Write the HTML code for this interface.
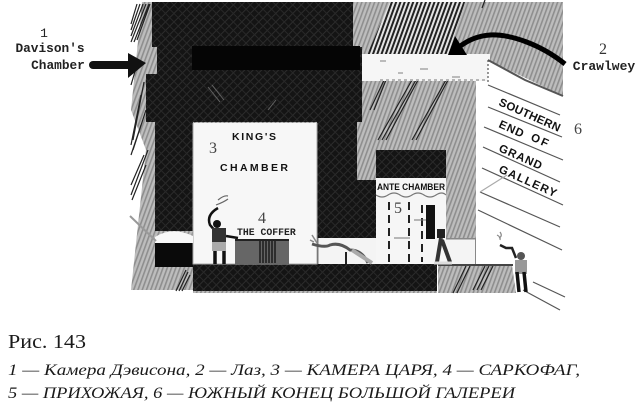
<!DOCTYPE html>
<html><head><meta charset="utf-8">
<style>html,body{margin:0;padding:0;background:#fff;width:636px;height:409px;overflow:hidden}svg{display:block}
.m{font-family:"Liberation Mono",monospace;font-weight:bold;fill:#222}
.d{font-family:"Liberation Sans",sans-serif;font-weight:bold;fill:#111}
.n{font-family:"Liberation Serif",serif;fill:#444}
.c{font-family:"Liberation Serif",serif;fill:#1a1a1a}
</style></head><body>
<svg width="636" height="409" viewBox="0 0 636 409" xmlns="http://www.w3.org/2000/svg">
<defs>
<pattern id="g" width="4" height="4" patternUnits="userSpaceOnUse" patternTransform="rotate(20)"><rect width="4" height="4" fill="#bdbdbd"/><rect width="1.6" height="4" fill="#8e8e8e"/></pattern>
<pattern id="h" width="4" height="4" patternUnits="userSpaceOnUse" patternTransform="rotate(20)"><rect width="4" height="4" fill="#e4e4e4"/><rect width="2" height="4" fill="#222"/></pattern>
<pattern id="k" width="6" height="6" patternUnits="userSpaceOnUse" patternTransform="rotate(45)"><rect width="6" height="6" fill="#141414"/><rect width="1" height="6" fill="#2c2c2c"/><rect width="6" height="1" fill="#282828"/></pattern>
</defs>
<rect width="636" height="409" fill="#fff"/>

<!-- gray masonry -->
<polygon points="142,2 563,2 563,96 488,60 476,60 476,265 437,265 437,293 193,293 193,290 142,290 131,290 146,150 131,110" fill="url(#g)"/>
<polygon points="438,265 512,265 518,293 438,293" fill="url(#g)"/>
<!-- left hatch -->
<g stroke="#222" stroke-width="1.2" fill="none">
<path d="M131,42 L146,4 M134,42 L149,4 M137,40 L150,4 M131,36 L143,4 M131,30 L140,4 M131,24 L137,4"/>
<path d="M131,85 L136,68 M133,140 L144,82 M131,145 L141,95 M133,150 L146,110 M131,155 L141,125"/>
<path d="M131,195 L148,150 M132,200 L146,165 M131,185 L144,155"/>
<path d="M176,291 L186,270 M179,291 L188,272 M182,291 L190,275"/>
<path d="M485,0 L482,8"/>
<path d="M453,293 L466,266 M457,293 L470,266 M473,290 L485,266 M477,290 L489,266 M481,290 L493,266"/>
<path d="M370,110 L385,78 M374,110 L386,80 M378,140 L412,80 M382,140 L416,80 M386,140 L418,80 M412,140 L446,80 M416,140 L448,80"/>
</g>
<!-- top hatch -->
<polygon points="390,2 465,2 448,55 367,55" fill="url(#h)"/>

<!-- dark block -->
<polygon points="152,2 353,2 353,47 362,47 362,122 357,122 357,180 376,180 376,238 317,238 317,122 193,122 193,231 155,231 155,122 146,122 146,74 157,74 157,47 152,47" fill="url(#k)"/>
<rect x="192" y="46" width="168" height="24" fill="#050505"/>
<rect x="155" y="243" width="38" height="24" fill="#0a0a0a"/>
<rect x="193" y="264" width="244" height="27" fill="url(#k)"/>
<rect x="376" y="150" width="70" height="28" fill="url(#k)"/>
<g stroke="#777" stroke-width="1" opacity=".8">
<path d="M208,87 L220,102 M212,85 L224,100 M268,110 L276,100"/>
</g>

<!-- crawlway -->
<rect x="362" y="54" width="128" height="27" fill="#f6f6f6"/>
<g fill="#bbb"><rect x="380" y="60" width="6" height="2"/><rect x="420" y="68" width="8" height="2"/><rect x="452" y="76" width="8" height="2"/><rect x="398" y="72" width="5" height="2"/></g>
<path d="M380,80 H490" stroke="#777" stroke-width="1" stroke-dasharray="3 3"/>

<!-- king's chamber -->
<rect x="193" y="123" width="124" height="141" fill="#f7f7f7"/>
<path d="M193,123 V264 H317 V123" fill="none" stroke="#aaa" stroke-width="1"/>
<!-- dome -->
<path d="M155,243 V237 Q172,226 193,236 V243 Z" fill="#f8f8f8"/>
<path d="M130,216 L156,241" stroke="#999" stroke-width="2"/>

<!-- passage -->
<rect x="318" y="238" width="58" height="26" fill="#f4f4f4"/>
<rect x="317" y="238" width="1.5" height="26" fill="#777"/>
<!-- ante chamber -->
<rect x="376" y="178" width="70" height="86" fill="#f6f6f6"/>
<path d="M376,195 q6,4 12,0 t12,0 t12,0 t12,0 t12,0 t10,0" fill="none" stroke="#777" stroke-width="1.2"/>
<path d="M389,202 V264 M409,202 V264 M422,205 V262" stroke="#222" stroke-width="2" stroke-dasharray="8 5"/>
<rect x="426" y="205" width="9" height="34" fill="#111"/>
<path d="M394,238 H410 M414,220 H426" stroke="#777" stroke-width="1"/>
<rect x="446" y="239" width="30" height="26" fill="#f4f4f4"/>
<rect x="475" y="239" width="1.5" height="26" fill="#888"/>
<rect x="446" y="238" width="30" height="1.5" fill="#888"/>

<!-- gallery -->
<polygon points="488,60 525,80 563,96 590,110 590,320 520,320 512,265 476,265 476,200 484,127 488,85" fill="#fff"/>
<g stroke="#555" stroke-width="1.2" fill="none">
<path d="M488,85 L560,115 M488,107 L562,137 M484,127 L563,160 M483,147 L560,182 M482,168 L563,205 M480,192 L560,227 M478,210 L562,250 M533,282 L565,297 M523,290 L560,310"/>
<path d="M488,60 L525,80 L563,96" stroke-width="2"/>
<path d="M488,60 V84" stroke-dasharray="2 2"/>
<path d="M438,265 H513" stroke-width="2" stroke="#444"/>
<path d="M480,192 L507,175" stroke="#aaa"/>
</g>

<!-- figure left -->
<g fill="none" stroke="#111" stroke-width="2.5">
<path d="M218,208 Q206,215 210,225 L216,232"/>
<path d="M226,236 L238,238"/>
<path d="M215,250 V264 M224,250 V264" stroke-width="3.5"/>
<path d="M218,200 q6,-5 10,-4 M216,205 q8,-3 12,-6" stroke="#666" stroke-width="1.2"/>
</g>
<circle cx="217" cy="224" r="4" fill="#111"/>
<rect x="212" y="228" width="14" height="14" fill="#333"/>
<rect x="212" y="242" width="14" height="9" fill="#aaa"/>
<!-- coffer -->
<rect x="235" y="240" width="54" height="24" fill="#666"/>
<g stroke="#111" stroke-width="1.3"><path d="M260,241 V263 M263,241 V263 M266,241 V263 M269,241 V263 M272,241 V263 M275,241 V263"/></g>
<rect x="235" y="239" width="54" height="2" fill="#222"/>
<!-- crawling figure -->
<path d="M312,235 l5,8 M310,240 l4,2" stroke="#888" stroke-width="1.5" fill="none"/>
<path d="M312,244 Q325,248 330,245 Q340,242 350,250 Q362,250 368,263" fill="none" stroke="#555" stroke-width="3"/>
<path d="M346,252 V264" stroke="#222" stroke-width="2"/>
<path d="M352,250 L372,263" stroke="#aaa" stroke-width="4"/>
<!-- ante figure -->
<rect x="437" y="229" width="8" height="9" fill="#222"/>
<path d="M441,238 L437,262 M442,240 L450,262" stroke="#333" stroke-width="4" fill="none"/>
<path d="M434,263 H452" stroke="#ddd" stroke-width="3"/>
<!-- gallery figure -->
<path d="M500,245 l6,3 l6,0 L516,258" stroke="#222" stroke-width="2.5" fill="none"/>
<path d="M500,232 q3,4 -1,6 M497,235 q4,2 3,5" stroke="#888" stroke-width="1.2" fill="none"/>
<circle cx="521" cy="256" r="4" fill="#555"/>
<rect x="515" y="260" width="12" height="14" fill="#999"/>
<path d="M517,272 L519,292 M524,272 L526,292" stroke="#111" stroke-width="3.5"/>

<!-- arrows -->
<path d="M93,65 H130" stroke="#111" stroke-width="8" stroke-linecap="round"/>
<polygon points="128,53 146,63 128,78" fill="#111"/>
<path d="M565,64 C540,44 510,34 490,35 C475,36 465,42 455,50" fill="none" stroke="#000" stroke-width="5"/>
<polygon points="448,55 467,55 455,36" fill="#000"/>

<!-- diagram labels -->
<text x="44" y="37" class="m" font-size="13" text-anchor="middle" style="font-weight:normal">1</text>
<text x="50" y="52" class="m" font-size="12.8" text-anchor="middle">Davison's</text>
<text x="58" y="69" class="m" font-size="12.8" text-anchor="middle">Chamber</text>
<text x="603" y="54" class="n" font-size="16" text-anchor="middle" style="fill:#333">2</text>
<text x="604" y="70" class="m" font-size="13" text-anchor="middle">Crawlwey</text>
<text x="578" y="134" class="n" font-size="16" text-anchor="middle">6</text>
<text x="213" y="153" class="n" font-size="16" text-anchor="middle">3</text>
<text x="232" y="140" class="d" font-size="10.5" textLength="44">KING'S</text>
<text x="220" y="171" class="d" font-size="10.5" textLength="68">CHAMBER</text>
<text x="262" y="223" class="n" font-size="16" text-anchor="middle">4</text>
<text x="237" y="235" class="m" font-size="9.8">THE COFFER</text>
<text x="377" y="190" class="d" font-size="9" textLength="68" lengthAdjust="spacingAndGlyphs">ANTE CHAMBER</text>
<text x="398" y="213" class="n" font-size="16" text-anchor="middle">5</text>
<text transform="translate(498,105) rotate(24)" class="d" font-size="11.5" textLength="66">SOUTHERN</text>
<text transform="translate(498,127) rotate(24)" class="d" font-size="11.5" textLength="26">END</text>
<text transform="translate(530,140) rotate(24)" class="d" font-size="11.5" textLength="18">OF</text>
<text transform="translate(498,151) rotate(24)" class="d" font-size="11.5" textLength="46">GRAND</text>
<text transform="translate(498,172) rotate(24)" class="d" font-size="11.5" textLength="62">GALLERY</text>

<!-- caption -->
<text x="8" y="348" class="c" font-size="20" textLength="78" lengthAdjust="spacingAndGlyphs">Рис. 143</text>
<text x="8" y="375" class="c" font-size="16" font-style="italic" textLength="572" lengthAdjust="spacingAndGlyphs">1 — Камера Дэвисона, 2 — Лаз, 3 — КАМЕРА ЦАРЯ, 4 — САРКОФАГ,</text>
<text x="8" y="398" class="c" font-size="16" font-style="italic" textLength="507" lengthAdjust="spacingAndGlyphs">5 — ПРИХОЖАЯ, 6 — ЮЖНЫЙ КОНЕЦ БОЛЬШОЙ ГАЛЕРЕИ</text>
</svg>
</body></html>
